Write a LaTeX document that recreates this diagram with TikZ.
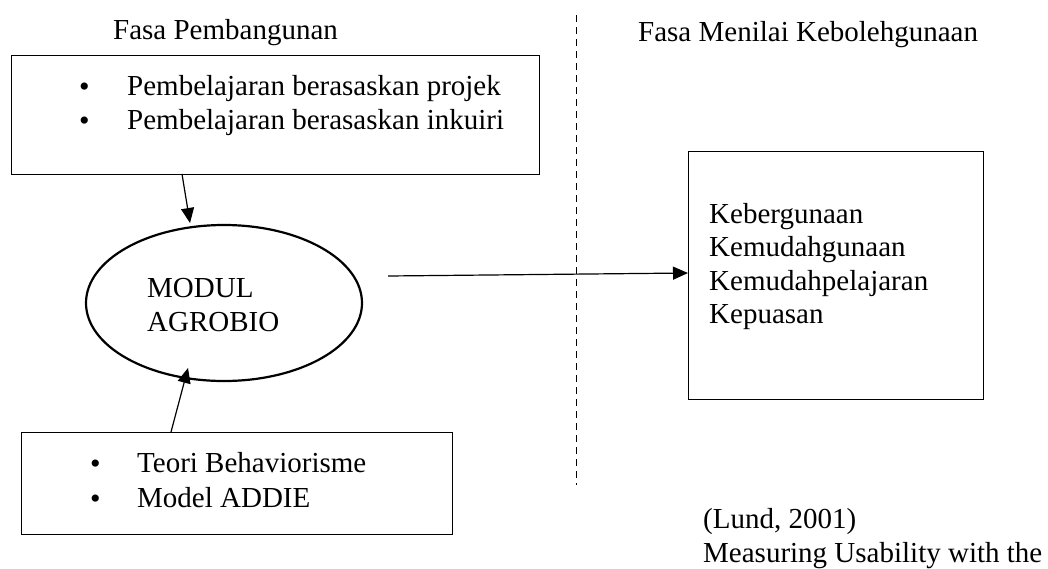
\documentclass[tikz,border=0pt]{standalone}
\usepackage{fontspec}
\setmainfont{Liberation Serif}
\usetikzlibrary{arrows.meta,shapes.geometric}
\begin{document}
\begin{tikzpicture}[x=1pt,y=-1pt,
  txt/.style={anchor=base west,inner sep=0pt,font=\fontsize{29}{34}\selectfont},
  bul/.style={anchor=base west,inner sep=0pt,font=\fontsize{30}{34}\selectfont},
  boxnode/.style={draw,line width=1.2pt,anchor=north west,inner sep=0pt},
  conn/.style={line width=1.2pt,-{Triangle[length=15pt,width=13pt]}}]
\useasboundingbox (0,0) rectangle (1048,568);
% headings
\node[txt] (h1) at (113,39) {Fasa Pembangunan};
\node[txt] (h2) at (638,41) {Fasa Menilai Kebolehgunaan};
% divider
\coordinate (dtop) at (576.5,15);
\coordinate (dbot) at (576.5,485);
\draw[line width=1.8pt,dash pattern=on 7pt off 5pt] (dtop) -- (dbot);
% top box
\node[boxnode,minimum width=528pt,minimum height=119pt] (topbox) at (11,55) {};
\node[bul] (b1) at (79,96) {•};
\node[txt] (t1) at (127,95) {Pembelajaran berasaskan projek};
\node[bul] (b2) at (79,130) {•};
\node[txt] (t2) at (127,129) {Pembelajaran berasaskan inkuiri};
% ellipse
\node[draw,ellipse,line width=2.2pt,minimum width=276pt,minimum height=156pt,inner sep=0pt] (mod) at (224,303) {};
\node[txt] (m1) at (147,297) {MODUL};
\node[txt] (m2) at (147,331) {AGROBIO};
% bottom box
\node[boxnode,minimum width=431pt,minimum height=102pt] (botbox) at (21,432) {};
\node[bul] (b3) at (90,473) {•};
\node[txt] (t3) at (137,472) {Teori Behaviorisme};
\node[bul] (b4) at (90,508) {•};
\node[txt] (t4) at (137,507) {Model ADDIE};
% right box
\node[boxnode,minimum width=295pt,minimum height=248pt] (rbox) at (688,151) {};
\node[txt] (r1) at (709,223) {Kebergunaan};
\node[txt] (r2) at (709,256.5) {Kemudahgunaan};
\node[txt] (r3) at (709,290) {Kemudahpelajaran};
\node[txt] (r4) at (709,323.5) {Kepuasan};
% reference
\node[txt] (l1) at (703,528) {(Lund, 2001)};
\node[txt] (l2) at (703,562) {Measuring Usability with the};
% connectors
\coordinate (a1s) at (182,174);
\coordinate (a1e) at (190,223);
\coordinate (a2s) at (171,432);
\coordinate (a2e) at (188,368);
\coordinate (a3s) at (388,276);
\coordinate (a3e) at (688,273);
\draw[conn] (a1s) -- (a1e);
\draw[conn] (a2s) -- (a2e);
\draw[conn] (a3s) -- (a3e);
\end{tikzpicture}
\end{document}
